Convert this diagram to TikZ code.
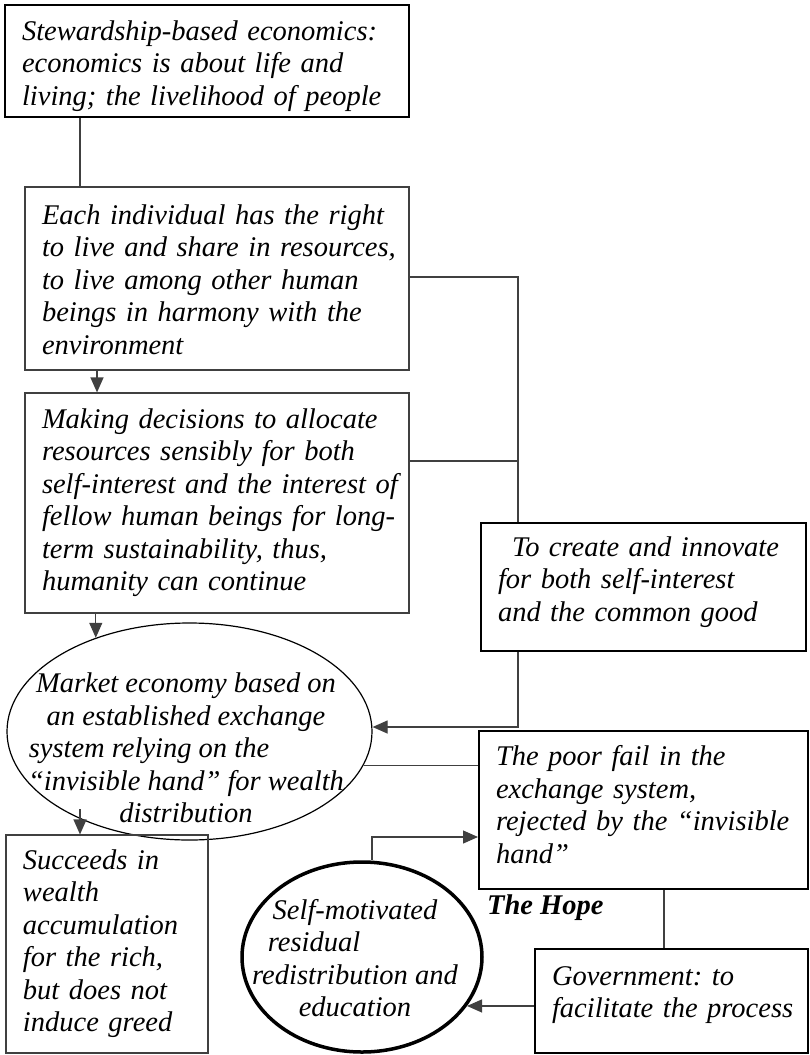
\documentclass[tikz,border=0pt]{standalone}
\usepackage{fontspec}
\setmainfont{Liberation Serif}
\usetikzlibrary{arrows.meta,shapes.geometric}
\newcommand{\boxlines}[2][0pt]{\raisebox{#1}[\height][\depth]{\begin{tabular}{@{}l@{}}#2\end{tabular}}}
\frenchspacing

\begin{document}
\begin{tikzpicture}[x=1pt, y=-1pt,
  every node/.style={font=\fontsize{28.5}{32.5}\selectfont\itshape, inner sep=0pt},
  box/.style={draw=black!75, line width=1.2pt, inner xsep=17pt, align=left},
  heavy/.style={box, draw=black, line width=2pt},
  oval/.style={ellipse, draw=black, line width=1.2pt},
  link/.style={draw=black!75, line width=1.2pt},
  tip/.style={link, -{Triangle[length=15pt,width=13pt]}}]
\useasboundingbox (0,0) rectangle (809,1055);
\node[heavy, text width=370pt, minimum height=112pt] (steward) at (207,61)
  {\boxlines[-5pt]{Stewardship-based economics:\\ economics is about life and\\ living; the livelihood of people}};
\node[box, text width=350pt, minimum height=183pt] (rights) at (217,278.5)
  {\boxlines[-4pt]{Each individual has the right\\ to live and share in resources,\\ to live among other human\\ beings in harmony with the\\ environment}};
\node[box, text width=350pt, minimum height=220pt] (decide) at (217,503)
  {\boxlines{Making decisions to allocate\\ resources sensibly for both\\ self-interest and the interest of\\ fellow human beings for long-\\ term sustainability, thus,\\ humanity can continue}};
\node[oval, minimum width=365pt, minimum height=217pt] (market) at (189.5,731.5) {};
\node[align=center] (markettext) at (186,748)
  {Market economy based on\\ an established exchange\\ system relying on the\hspace*{74pt}\mbox{}\\ ``invisible hand'' for wealth\\ distribution};
\node[heavy, text width=295pt, minimum height=158pt] (poor) at (643.5,810)
  {\boxlines[2pt]{The poor fail in the\\ exchange system,\\ rejected by the ``invisible\\ hand''}};
\node[box, text width=168pt, minimum height=218pt] (succeed) at (107,944)
  {\boxlines{Succeeds in\\ wealth\\ accumulation\\ for the rich,\\ but does not\\ induce greed}};
\node[oval, line width=3.5pt, minimum width=240pt, minimum height=190pt] (hope) at (362,957) {};
\node[align=center] (hopetext) at (355,958)
  {Self-motivated\\ residual\hspace*{82pt}\mbox{}\\ redistribution and\\ education};
\node[anchor=west, font=\fontsize{28.5}{32.5}\selectfont\bfseries\itshape] (hopelabel) at (487,908) {The Hope};
\node[heavy, line width=1.7pt, text width=239pt, minimum height=104pt] (govern) at (671.5,1001)
  {\boxlines[6pt]{Government: to\\ facilitate the process}};
\coordinate (bus) at (518,727);
\draw[link] ([xshift=-127pt]steward.south) -- ([xshift=-137pt]rights.north);
\draw[tip] ([xshift=-120pt]rights.south) -- ([xshift=-120pt]decide.north);
\draw[tip] ([yshift=1.5pt]rights.east) -| (bus) -- (bus -| market.east);
\draw[link] ([yshift=42pt]decide.east) -- ++(109,0);
\draw[tip] (market.135 |- decide.south) -- (market.135);
\draw[link] (market.-11) -- (market.-11 -| poor.west);
\draw[tip] ([xshift=-27pt,yshift=25pt]succeed.north) -- ([xshift=-27pt]succeed.north);
\draw[tip] ([xshift=10pt]hope.north) |- ([yshift=-27pt]poor.west);
\draw[link] ([xshift=20.5pt]poor.south) -- ([xshift=-7.5pt]govern.north);
\draw[tip] (hope.-25 -| govern.west) -- (hope.-25);
\node[heavy, fill=white, text width=291pt, minimum height=128pt] (create) at (643.5,587)
  {\boxlines[5pt]{\hspace*{14pt}To create and innovate\\ for both self-interest\\ and the common good}};
\end{tikzpicture}
\end{document}
